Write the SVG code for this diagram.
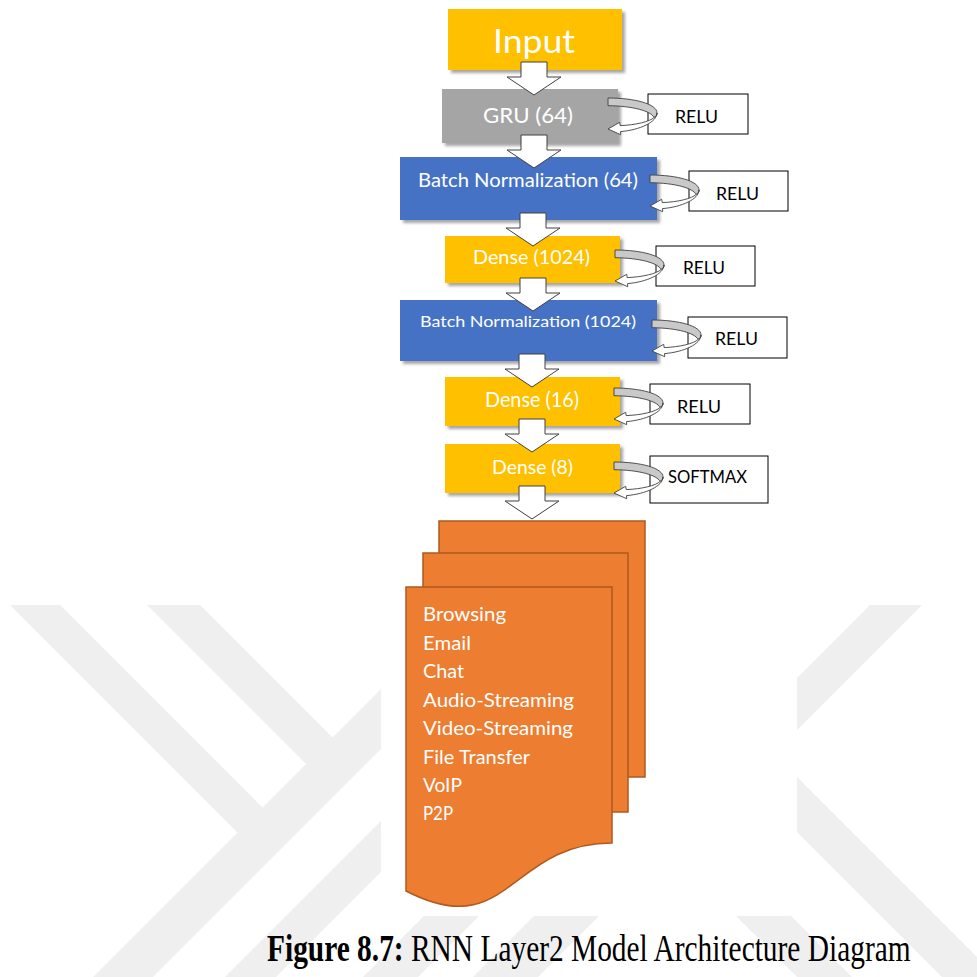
<svg xmlns="http://www.w3.org/2000/svg" width="977" height="977" viewBox="0 0 977 977">
  <style>
    .lbl { font-family: Lato, "Open Sans", "Liberation Sans", sans-serif; fill: #ffffff; }
    .act { font-family: Lato, "Open Sans", "Liberation Sans", sans-serif; fill: #000000; font-size: 18px; }
    .act-box { fill: #ffffff; stroke: #000000; stroke-width: 1; }
    .yellow { fill: #FFC000; }
    .blue { fill: #4472C4; }
    .grey { fill: #A5A5A5; }
    .doc { fill: #ED7D31; stroke: #AE5A21; stroke-width: 1.5; }
    .flow { fill: #ffffff; stroke: #404040; stroke-width: 1; stroke-linejoin: miter; }
    .loop-back { fill: #c9c9c9; stroke: #404040; stroke-width: 0.9; }
    .loop-front { fill: #ffffff; stroke: #404040; stroke-width: 0.9; stroke-linejoin: round; }
    .mark { fill: #efefef; }
    .cls { font-family: Lato, "Open Sans", "Liberation Sans", sans-serif; fill: #ffffff; font-size: 18.5px; }
  </style>
  <defs>
    <filter id="shadow" x="-10%" y="-10%" width="130%" height="150%">
      <feDropShadow dx="3" dy="3" stdDeviation="1.4" flood-color="#000000" flood-opacity="0.35"/>
    </filter>
    <!-- block arrow pointing down, centred on x=0, top at y=0 -->
    <path id="down" d="M-13,0 H13 V15 H27 L0,33 L-27,15 H-13 Z"/>
    <!-- looping activation arrow, origin at the top-left of the ribbon -->
    <g id="loop">
      <path class="loop-back" d="M0,0 C27,0 49,6 49,15 C49,17 48,18.5 46,19.5 C43,13 25,8 0,7.7 Z"/>
      <path class="loop-front" d="M49,15 C49,24 32,32 12.5,33.6 L12.7,36.7 L0,31 L11.7,24.3 L12.2,27.6 C28,27 42,23.5 46,19.5 C48,18.5 49,17 49,15 Z"/>
    </g>
  </defs>

  <rect x="0" y="0" width="977" height="977" fill="#ffffff"/>

  <!-- faint page watermark -->
  <g id="watermark">
    <polygon class="mark" points="10,605 60,605 282,827 257,852"/>
    <polygon class="mark" points="147,605 200,605 355,760 328,786"/>
    <polygon class="mark" points="93,977 153,977 450,680 390,680"/>
    <polygon class="mark" points="225,977 276,977 500,753 449,753"/>
    <polygon class="mark" points="363,977 418,977 520,875 465,875"/>
    <polygon class="mark" points="473,977 538,977 640,875 575,875"/>
    <polygon class="mark" points="870,605 922,605 750,777 698,777"/>
    <polygon class="mark" points="695,730 750,730 1030,1010 975,1010"/>
    <polygon class="mark" points="700,880 755,880 852,977 797,977"/>
  </g>
  <!-- figure backdrop -->
  <rect x="381" y="0" width="416" height="916" fill="#ffffff"/>

  <!-- layer nodes -->
  <g id="input">
    <rect class="yellow" x="448" y="9" width="174" height="61" filter="url(#shadow)"/>
    <text class="lbl" x="493" y="53" font-size="32" textLength="82" lengthAdjust="spacingAndGlyphs">Input</text>
  </g>
  <g id="gru">
    <rect class="grey" x="442" y="89" width="176" height="54" filter="url(#shadow)"/>
    <text class="lbl" x="483" y="123" font-size="21" textLength="90" lengthAdjust="spacingAndGlyphs" fill="#f2f2f2">GRU (64)</text>
  </g>
  <g id="batchnorm-64">
    <rect class="blue" x="400" y="157" width="257" height="63" filter="url(#shadow)"/>
    <text class="lbl" x="418" y="187" font-size="18.5" textLength="220" lengthAdjust="spacingAndGlyphs">Batch Normalization (64)</text>
  </g>
  <g id="dense-1024">
    <rect class="yellow" x="445" y="236" width="175" height="47" filter="url(#shadow)"/>
    <text class="lbl" x="473" y="264" font-size="19.5" textLength="117" lengthAdjust="spacingAndGlyphs">Dense (1024)</text>
  </g>
  <g id="batchnorm-1024">
    <rect class="blue" x="400" y="300" width="257" height="61" filter="url(#shadow)"/>
    <text class="lbl" x="420" y="327" font-size="16" textLength="216" lengthAdjust="spacingAndGlyphs">Batch Normalization (1024)</text>
  </g>
  <g id="dense-16">
    <rect class="yellow" x="445" y="377" width="175" height="49" filter="url(#shadow)"/>
    <text class="lbl" x="485" y="407" font-size="21" textLength="94" lengthAdjust="spacingAndGlyphs">Dense (16)</text>
  </g>
  <g id="dense-8">
    <rect class="yellow" x="445" y="444" width="175" height="49" filter="url(#shadow)"/>
    <text class="lbl" x="492" y="474" font-size="20" textLength="81" lengthAdjust="spacingAndGlyphs">Dense (8)</text>
  </g>

  <!-- activation nodes -->
  <g id="act-gru">
    <rect class="act-box" x="648" y="94" width="100" height="40"/>
    <text class="act" x="675" y="123" textLength="43" lengthAdjust="spacingAndGlyphs">RELU</text>
  </g>
  <g id="act-bn64">
    <rect class="act-box" x="689" y="171" width="99" height="40"/>
    <text class="act" x="716" y="200" textLength="43" lengthAdjust="spacingAndGlyphs">RELU</text>
  </g>
  <g id="act-dense1024">
    <rect class="act-box" x="656" y="246" width="99" height="40"/>
    <text class="act" x="683" y="273.5" textLength="42" lengthAdjust="spacingAndGlyphs">RELU</text>
  </g>
  <g id="act-bn1024">
    <rect class="act-box" x="688" y="317" width="99" height="41"/>
    <text class="act" x="715" y="345" textLength="43" lengthAdjust="spacingAndGlyphs">RELU</text>
  </g>
  <g id="act-dense16">
    <rect class="act-box" x="650" y="384" width="100" height="40"/>
    <text class="act" x="677" y="413" textLength="44" lengthAdjust="spacingAndGlyphs">RELU</text>
  </g>
  <g id="act-dense8">
    <rect class="act-box" x="650" y="456" width="118" height="47"/>
    <text class="act" x="668" y="483" font-size="16" textLength="79" lengthAdjust="spacingAndGlyphs">SOFTMAX</text>
  </g>

  <!-- output classes: stacked documents -->
  <g id="output">
    <rect class="doc" x="439" y="521" width="206" height="256"/>
    <rect class="doc" x="423" y="553" width="205" height="259"/>
    <path class="doc" d="M406,587 H612 V843 C509,843 509,944 406,891 Z"/>
    <text class="cls" x="423" y="621" textLength="83" lengthAdjust="spacingAndGlyphs">Browsing</text>
    <text class="cls" x="423" y="649.5" textLength="48" lengthAdjust="spacingAndGlyphs">Email</text>
    <text class="cls" x="423" y="678" textLength="41" lengthAdjust="spacingAndGlyphs">Chat</text>
    <text class="cls" x="423" y="706.5" textLength="151" lengthAdjust="spacingAndGlyphs">Audio-Streaming</text>
    <text class="cls" x="423" y="735" textLength="150" lengthAdjust="spacingAndGlyphs">Video-Streaming</text>
    <text class="cls" x="423" y="763.5" textLength="107" lengthAdjust="spacingAndGlyphs">File Transfer</text>
    <text class="cls" x="423" y="792" textLength="39" lengthAdjust="spacingAndGlyphs">VoIP</text>
    <text class="cls" x="423" y="820" textLength="30" lengthAdjust="spacingAndGlyphs">P2P</text>
  </g>

  <!-- connectors -->
  <g id="connectors">
    <use href="#down" class="flow" x="534" y="62"/>
    <use href="#down" class="flow" x="534" y="135"/>
    <use href="#down" class="flow" x="533" y="213"/>
    <use href="#down" class="flow" x="533" y="278"/>
    <use href="#down" class="flow" x="532" y="354"/>
    <use href="#down" class="flow" x="532" y="419"/>
    <use href="#down" class="flow" x="532" y="486"/>
    <use href="#loop" x="608" y="98"/>
    <use href="#loop" x="650" y="175"/>
    <use href="#loop" x="615" y="250"/>
    <use href="#loop" x="652" y="320"/>
    <use href="#loop" x="614" y="388"/>
    <use href="#loop" x="614" y="462"/>
  </g>

  <!-- caption -->
  <text transform="translate(267 961) scale(0.795 1)" font-family="'Liberation Serif', 'Times New Roman', serif" font-size="37" fill="#000000"><tspan font-weight="bold">Figure 8.7:</tspan> RNN Layer2 Model Architecture Diagram</text>
</svg>
